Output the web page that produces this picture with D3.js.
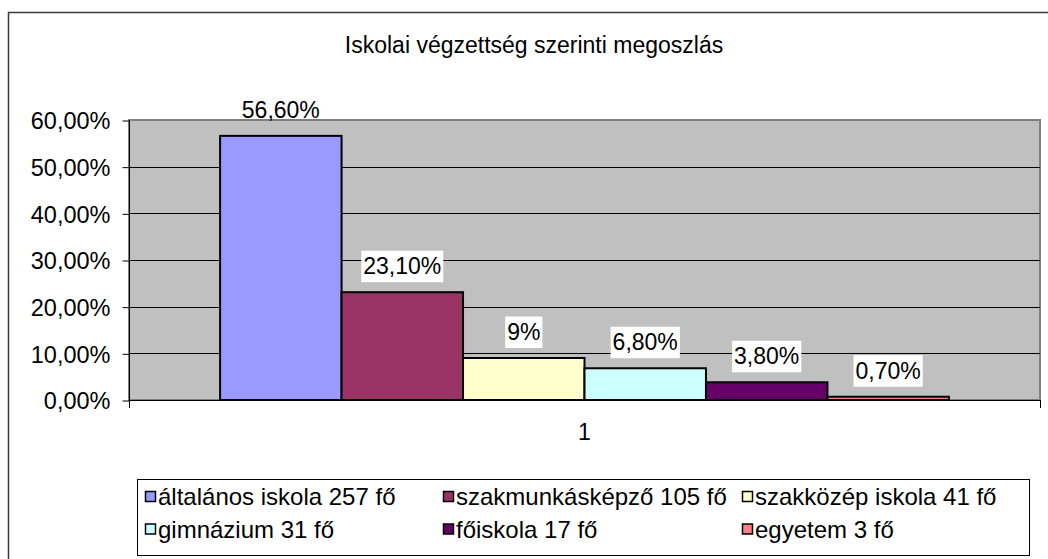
<!DOCTYPE html>
<html>
<head>
<meta charset="utf-8">
<script src="https://cdn.jsdelivr.net/npm/d3@7"></script>
<style>
  html, body { margin: 0; padding: 0; background: #fff; }
  svg text { font-family: "Liberation Sans", Arial, sans-serif; fill: #000; }
</style>
</head>
<body>
<svg id="chart" width="1048" height="559"></svg>
<script>
// ---- data ----
const title = "Iskolai végzettség szerinti megoszlás";
const categories = ["1"];
const seriesNames = [
  "általános iskola 257 fő",
  "szakmunkásképző 105 fő",
  "szakközép iskola 41 fő",
  "gimnázium 31 fő",
  "főiskola 17 fő",
  "egyetem 3 fő"
];
const seriesValues = [0.566, 0.231, 0.09, 0.068, 0.038, 0.007];
const valueLabels = ["56,60%", "23,10%", "9%", "6,80%", "3,80%", "0,70%"];
const seriesColors = ["#9999FF", "#993366", "#FFFFCC", "#CCFFFF", "#660066", "#FF8080"];
const yTicks = [0, 0.1, 0.2, 0.3, 0.4, 0.5, 0.6];

// ---- layout ----
const W = 1048, H = 559;
const plot = { left: 129, right: 1040, top: 120, bottom: 400 };
const FONT = 23;
const LEG_FONT = 24;

const svg = d3.select("#chart");
svg.append("rect").attr("width", W).attr("height", H).attr("fill", "#fff");

// outer chart border
svg.append("rect")
  .attr("x", 8.5).attr("y", 12.5)
  .attr("width", 1100).attr("height", 700)
  .attr("fill", "none").attr("stroke", "#3a3a3a").attr("stroke-width", 1.5);

// title
svg.append("text")
  .attr("x", 534).attr("y", 53)
  .attr("text-anchor", "middle")
  .style("font-size", FONT + "px")
  .text(title);

const huLocale = d3.formatLocale({ decimal: ",", thousands: " ", grouping: [3], currency: ["", ""] });
const fmt = huLocale.format(".2%");

const y = d3.scaleLinear().domain([0, 0.6]).range([plot.bottom, plot.top]);
const xCat = d3.scaleBand().domain(categories).range([plot.left, plot.right]);
const xSer = d3.scaleBand().domain(seriesNames)
  .range([plot.left, plot.right]).paddingInner(0).paddingOuter(0.75);

// plot area
svg.append("rect")
  .attr("x", plot.left).attr("y", plot.top)
  .attr("width", plot.right - plot.left).attr("height", plot.bottom - plot.top)
  .attr("fill", "#C0C0C0").attr("stroke", "#808080").attr("stroke-width", 2);

// gridlines
svg.append("g").selectAll("line").data(yTicks.filter(d => d > 0 && d < 0.6)).join("line")
  .attr("x1", plot.left).attr("x2", plot.right)
  .attr("y1", d => Math.round(y(d)) + 0.5).attr("y2", d => Math.round(y(d)) + 0.5)
  .attr("stroke", "#000").attr("stroke-width", 1);

// y axis
const yAxis = d3.axisLeft(y).tickValues(yTicks).tickFormat(fmt).tickSize(7).tickPadding(12);
const gy = svg.append("g").attr("transform", `translate(${plot.left + 0.5},0.5)`).call(yAxis);
gy.select(".domain").remove();
gy.selectAll(".tick line").attr("stroke", "#000");
gy.selectAll(".tick text").style("font-size", "23.5px")
  .attr("font-family", null).attr("dy", "0.36em");
svg.append("line")
  .attr("x1", plot.left + 0.5).attr("x2", plot.left + 0.5)
  .attr("y1", plot.top).attr("y2", plot.bottom + 7)
  .attr("stroke", "#000");

// x axis
const xAxis = d3.axisBottom(xCat).tickSize(0).tickPadding(24);
const gx = svg.append("g").attr("transform", `translate(0,${plot.bottom})`).call(xAxis);
gx.select(".domain").remove();
gx.selectAll(".tick text").style("font-size", FONT + "px").attr("font-family", null);
svg.append("line")
  .attr("x1", plot.left).attr("x2", plot.right)
  .attr("y1", plot.bottom + 0.5).attr("y2", plot.bottom + 0.5)
  .attr("stroke", "#000");
svg.append("g").selectAll("line").data(xCat.range()).join("line")
  .attr("x1", d => d + 0.5).attr("x2", d => d + 0.5)
  .attr("y1", plot.bottom).attr("y2", plot.bottom + 8)
  .attr("stroke", "#000");

// bars
svg.append("g").selectAll("rect").data(seriesValues).join("rect")
  .attr("x", (d, i) => xSer(seriesNames[i]))
  .attr("y", d => y(d))
  .attr("width", xSer.bandwidth())
  .attr("height", d => y(0) - y(d))
  .attr("fill", (d, i) => seriesColors[i])
  .attr("stroke", "#000").attr("stroke-width", 2);

// value labels with white boxes
const lg = svg.append("g");
seriesValues.forEach((v, i) => {
  const cx = xSer(seriesNames[i]) + xSer.bandwidth() / 2;
  const base = y(v) - 18;
  const g = lg.append("g");
  const box = g.append("rect").attr("fill", "#fff");
  const t = g.append("text")
    .attr("x", cx).attr("y", base)
    .attr("text-anchor", "middle")
    .style("font-size", FONT + "px")
    .text(valueLabels[i]);
  const w = t.node().getComputedTextLength();
  let top = base - 23.5, bottom = base + 8;
  if (top < plot.top && bottom > plot.top) bottom = plot.top - 1;
  box.attr("x", cx - w / 2 - 2).attr("y", top)
    .attr("width", w + 4).attr("height", bottom - top);
});

// legend
svg.append("rect")
  .attr("x", 137.5).attr("y", 479.5)
  .attr("width", 892).attr("height", 76)
  .attr("fill", "#fff").attr("stroke", "#000").attr("stroke-width", 1);
const colX = [145, 443, 742];
const rowY = [496.5, 529];
const leg = svg.append("g").selectAll("g").data(seriesNames).join("g")
  .attr("transform", (d, i) => `translate(${colX[i % 3]},${rowY[Math.floor(i / 3)]})`);
leg.append("rect")
  .attr("x", 0.5).attr("y", -5).attr("width", 10).attr("height", 10)
  .attr("fill", (d, i) => seriesColors[i])
  .attr("stroke", "#000").attr("stroke-width", 1.5);
leg.append("text")
  .attr("x", 13).attr("y", 8.5)
  .style("font-size", LEG_FONT + "px")
  .text(d => d);
</script>
</body>
</html>
